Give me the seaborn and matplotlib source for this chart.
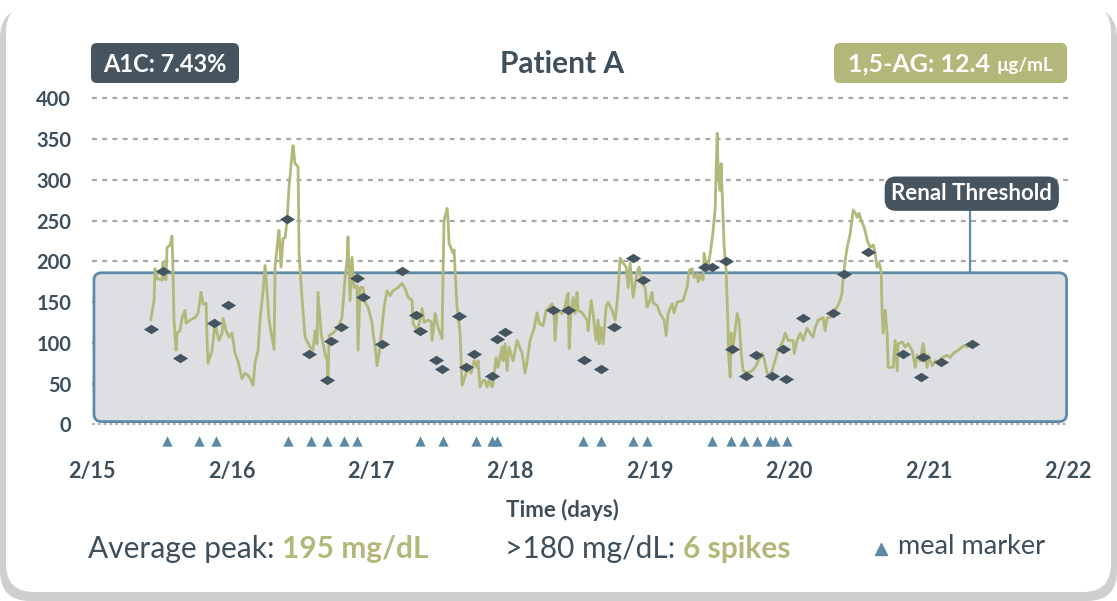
import matplotlib

matplotlib.use('agg')
import matplotlib.pyplot as plt
import pandas as pd
import seaborn as sns
from matplotlib.patches import FancyBboxPatch
from matplotlib.path import Path

# ---- data (days since 2/15 00:00, glucose in mg/dL) ----
DAY_LABELS = ['2/15', '2/16', '2/17', '2/18', '2/19', '2/20', '2/21', '2/22']
Y_TICKS = [0, 50, 100, 150, 200, 250, 300, 350, 400]

TRACE_DAY = [
    0.421, 0.445, 0.452, 0.466, 0.502, 0.509, 0.517, 0.531, 0.538, 0.560, 0.574, 0.581, 0.588, 0.603,
    0.610, 0.631, 0.646, 0.667, 0.674, 0.703, 0.739, 0.760, 0.782, 0.796, 0.818, 0.825, 0.832, 0.861,
    0.875, 0.882, 0.897, 0.911, 0.933, 0.940, 0.961, 0.983, 1.004, 1.026, 1.047, 1.076, 1.098, 1.119,
    1.141, 1.155, 1.169, 1.191, 1.205, 1.227, 1.241, 1.255, 1.270, 1.284, 1.306, 1.313, 1.334, 1.341,
    1.356, 1.370, 1.385, 1.399, 1.413, 1.435, 1.442, 1.456, 1.478, 1.485, 1.506, 1.528, 1.564, 1.585,
    1.600, 1.614, 1.621, 1.643, 1.671, 1.686, 1.693, 1.700, 1.729, 1.765, 1.793, 1.815, 1.829, 1.836,
    1.851, 1.865, 1.879, 1.901, 1.908, 1.923, 1.944, 1.958, 1.980, 2.009, 2.016, 2.037, 2.044, 2.059,
    2.080, 2.095, 2.116, 2.138, 2.159, 2.195, 2.224, 2.245, 2.267, 2.296, 2.303, 2.331, 2.353, 2.367,
    2.382, 2.410, 2.432, 2.439, 2.461, 2.482, 2.511, 2.518, 2.525, 2.547, 2.554, 2.561, 2.590, 2.597,
    2.604, 2.618, 2.640, 2.654, 2.661, 2.683, 2.704, 2.719, 2.740, 2.762, 2.769, 2.783, 2.805, 2.819,
    2.834, 2.848, 2.869, 2.877, 2.898, 2.912, 2.941, 2.948, 2.963, 2.977, 2.991, 3.020, 3.049, 3.085,
    3.106, 3.121, 3.142, 3.171, 3.192, 3.207, 3.235, 3.257, 3.271, 3.300, 3.314, 3.321, 3.336, 3.372,
    3.386, 3.407, 3.415, 3.422, 3.436, 3.451, 3.465, 3.479, 3.486, 3.515, 3.551, 3.558, 3.580, 3.594,
    3.615, 3.630, 3.637, 3.651, 3.666, 3.687, 3.702, 3.730, 3.752, 3.766, 3.773, 3.788, 3.809, 3.831,
    3.845, 3.859, 3.881, 3.910, 3.924, 3.945, 3.967, 3.981, 3.996, 4.017, 4.024, 4.053, 4.074, 4.103,
    4.118, 4.132, 4.161, 4.175, 4.197, 4.240, 4.268, 4.283, 4.304, 4.319, 4.340, 4.347, 4.369, 4.383,
    4.390, 4.412, 4.426, 4.440, 4.455, 4.469, 4.484, 4.491, 4.505, 4.512, 4.527, 4.534, 4.548, 4.562,
    4.565, 4.577, 4.584, 4.598, 4.627, 4.641, 4.656, 4.670, 4.699, 4.735, 4.756, 4.778, 4.806, 4.821,
    4.842, 4.864, 4.885, 4.914, 4.935, 4.957, 4.971, 4.993, 5.029, 5.036, 5.057, 5.079, 5.100, 5.129,
    5.151, 5.172, 5.187, 5.208, 5.244, 5.258, 5.273, 5.294, 5.316, 5.344, 5.366, 5.380, 5.387, 5.402,
    5.416, 5.438, 5.459, 5.473, 5.488, 5.502, 5.517, 5.538, 5.560, 5.581, 5.603, 5.617, 5.631, 5.646,
    5.660, 5.667, 5.674, 5.689, 5.703, 5.710, 5.746, 5.760, 5.775, 5.782, 5.811, 5.832, 5.854, 5.882,
    5.904, 5.918, 5.940, 5.961, 5.990, 5.997, 6.026, 6.047, 6.069, 6.098, 6.133, 6.155, 6.176, 6.212,
    6.255, 6.277, 6.320,
]
TRACE_MG = [
    128, 152, 191, 179, 177, 199, 180, 177, 217, 220, 231, 189, 128, 91,
    112, 115, 131, 140, 124, 128, 131, 136, 162, 148, 149, 107, 75, 91,
    112, 128, 112, 103, 112, 130, 115, 107, 112, 87, 78, 56, 63, 60,
    54, 48, 75, 91, 128, 164, 195, 164, 128, 113, 92, 193, 228, 238,
    193, 228, 229, 250, 291, 332, 342, 320, 316, 210, 156, 107, 95, 91,
    115, 99, 162, 112, 87, 78, 54, 109, 112, 119, 131, 180, 201, 230,
    152, 205, 168, 170, 91, 168, 168, 150, 144, 124, 112, 87, 72, 87,
    119, 144, 164, 158, 164, 168, 173, 167, 156, 152, 124, 115, 128, 142,
    125, 128, 126, 103, 136, 119, 105, 189, 250, 265, 250, 222, 210, 214,
    189, 144, 112, 48, 51, 63, 70, 63, 78, 70, 78, 46, 54, 54,
    46, 54, 46, 50, 82, 70, 95, 78, 99, 66, 95, 78, 103, 87,
    63, 78, 103, 118, 137, 124, 121, 140, 142, 148, 136, 103, 140, 136,
    140, 156, 161, 93, 140, 156, 136, 162, 140, 137, 128, 115, 152, 136,
    103, 128, 99, 119, 99, 144, 150, 140, 128, 150, 164, 204, 198, 193,
    168, 198, 156, 187, 193, 173, 168, 144, 150, 162, 149, 146, 136, 128,
    109, 136, 148, 137, 150, 152, 168, 189, 191, 180, 185, 175, 183, 177,
    210, 190, 201, 217, 238, 263, 357, 308, 287, 320, 250, 217, 189, 119,
    87, 58, 112, 95, 136, 128, 87, 66, 63, 66, 70, 78, 87, 80,
    63, 58, 70, 87, 95, 103, 112, 103, 103, 87, 103, 112, 103, 118,
    112, 107, 119, 128, 131, 115, 131, 131, 137, 144, 152, 162, 180, 201,
    217, 234, 263, 260, 254, 259, 250, 242, 226, 217, 220, 210, 193, 198,
    187, 136, 112, 140, 112, 70, 70, 103, 66, 99, 101, 95, 99, 91,
    70, 85, 78, 99, 70, 85, 72, 78, 75, 82, 85, 82, 87, 91,
    97, 95, 101,
]

READING_DAY = [
    0.423, 0.509, 0.631, 0.875, 0.976, 1.399, 1.557, 1.686, 1.714, 1.786, 1.901, 1.944, 2.080, 2.224,
    2.324, 2.353, 2.468, 2.511, 2.633, 2.683, 2.740, 2.869, 2.905, 2.963, 3.307, 3.415, 3.529, 3.651,
    3.745, 3.881, 3.953, 4.398, 4.448, 4.548, 4.591, 4.692, 4.763, 4.878, 4.957, 4.978, 5.100, 5.316,
    5.395, 5.567, 5.818, 5.947, 5.961, 6.090, 6.313,
]
READING_MG = [
    117, 188, 81, 125, 146, 252, 87, 54, 102, 120, 180, 156, 99, 188,
    134, 114, 79, 68, 133, 71, 87, 59, 105, 113, 140, 140, 79, 68,
    119, 204, 177, 193, 193, 200, 93, 60, 85, 60, 93, 56, 130, 137,
    184, 211, 87, 58, 83, 76, 99,
]

MEAL_DAY = [
    0.538, 0.768, 0.890, 1.406, 1.571, 1.686, 1.808, 1.901, 2.353, 2.518, 2.755, 2.869, 2.905,
    3.522, 3.651, 3.881, 3.981, 4.448, 4.584, 4.677, 4.770, 4.864, 4.900, 4.986,
]

RENAL_THRESHOLD = 186
A1C = '7.43%'
AG_VALUE = '12.4'
AVG_PEAK = 195
SPIKES = 6

# ---- style ----
DARK = '#45545f'
TEXT = '#3d4f5c'
OLIVE = '#b3b87a'
STEEL = '#5d8aa6'
BOX = '#dddfe2'
GRID = '#a8a8a8'

sns.set_theme(style='white')
plt.rcParams['font.family'] = ['Lato', 'DejaVu Sans']

W, H = 1117, 601
fig = plt.figure(figsize=(W / 100, H / 100), dpi=100)
fig.patch.set_facecolor('white')
inch = fig.dpi_scale_trans


def px_box(x0, y0, x1, y1, r, fc, z=-1):
    p = FancyBboxPatch((x0 / 100, (H - y1) / 100), (x1 - x0) / 100, (y1 - y0) / 100,
                       boxstyle=f'round,pad=0,rounding_size={r / 100}',
                       transform=inch, fc=fc, ec='none', zorder=z)
    fig.patches.append(p)


def px_text(x, y, s, **kw):
    return fig.text(x / 100, (H - y) / 100, s, transform=inch, **kw)


# card with shadow
px_box(0, 8, 1117, 601, 30, '#cfcfcf', z=-3)
px_box(6, 4, 1111, 592, 28, 'white', z=-2)

ax = fig.add_axes([92 / W, 1 - 453 / H, 976 / W, (453 - 94.2) / H])
ax.set_xlim(0, 7)
ax.set_ylim(-35, 405)
ax.patch.set_alpha(0)
for s in ax.spines.values():
    s.set_visible(False)

for y in Y_TICKS:
    if y == 0:
        ax.axhline(y, color=GRID, lw=1.3, ls=(0, (1.6, 1.6)), zorder=0.5)
    else:
        ax.axhline(y, color=GRID, lw=1.6, ls=(0, (2.2, 2.4)), zorder=0.5)

# renal threshold band
band = FancyBboxPatch((0.014, 3.5), 6.976, RENAL_THRESHOLD - 3.5,
                      boxstyle='round,pad=0,rounding_size=0.055', mutation_aspect=171,
                      fc=BOX, ec=STEEL, lw=2, zorder=1)
ax.add_patch(band)
ax.plot([6.30, 6.30], [RENAL_THRESHOLD, 266], color=STEEL, lw=1.6, zorder=1.5)
ax.text(6.31, 283, 'Renal Threshold', ha='center', va='center', color='white',
        fontsize=16, fontweight='bold', zorder=3,
        bbox=dict(boxstyle='round,pad=0.3,rounding_size=0.5', fc=DARK, ec='none'))

trace = pd.DataFrame({'day': TRACE_DAY, 'mg': TRACE_MG})
sns.lineplot(data=trace, x='day', y='mg', sort=False, estimator=None, color=OLIVE,
             lw=2.0, ax=ax, zorder=2)

diamond = Path([(-1, 0), (0, 0.62), (1, 0), (0, -0.62), (-1, 0)],
               [Path.MOVETO, Path.LINETO, Path.LINETO, Path.LINETO, Path.CLOSEPOLY])
readings = pd.DataFrame({'day': READING_DAY, 'mg': READING_MG})
sns.scatterplot(data=readings, x='day', y='mg', marker=diamond, s=120, color=DARK,
                linewidth=0, ax=ax, zorder=3)

meals = pd.DataFrame({'day': MEAL_DAY, 'y': [-20] * len(MEAL_DAY)})
sns.scatterplot(data=meals, x='day', y='y', marker='^', s=55, color=STEEL, linewidth=0,
                ax=ax, zorder=3, clip_on=False)

ax.set_yticks(Y_TICKS)
ax.set_xticks(range(len(DAY_LABELS)))
ax.set_xticklabels(DAY_LABELS)
ax.tick_params(axis='y', length=0, pad=15, labelsize=14.5, labelcolor=TEXT)
ax.tick_params(axis='x', length=0, pad=6, labelsize=15.5, labelcolor=TEXT)
for lab in ax.get_xticklabels() + ax.get_yticklabels():
    lab.set_fontweight('bold')
ax.set_xlabel('')
ax.set_ylabel('')

# header
px_box(91, 43, 239, 83, 6, DARK, z=1)
px_text(165, 64, f'A1C: {A1C}', ha='center', va='center', color='white', fontsize=17,
        fontweight='bold')
px_text(562, 64, 'Patient A', ha='center', va='center', color=TEXT, fontsize=21.5,
        fontweight='bold')
px_box(834, 43, 1067, 83, 6, OLIVE, z=1)

fig.canvas.draw()
r = fig.canvas.get_renderer()

t1 = px_text(0, 64, f'1,5-AG: {AG_VALUE} ', ha='left', va='center', color='white',
             fontsize=18, fontweight='bold')
t2 = px_text(0, 66, 'µg/mL', ha='left', va='center', color='white', fontsize=13.5,
             fontweight='bold')
w1 = t1.get_window_extent(r).width
w2 = t2.get_window_extent(r).width
x0 = (834 + 1067) / 2 - (w1 + w2) / 2
t1.set_position((x0 / 100, (H - 64) / 100))
t2.set_position(((x0 + w1) / 100, (H - 66) / 100))

px_text(562, 510, 'Time (days)', ha='center', va='center', color=TEXT, fontsize=16,
        fontweight='bold')


def run(x, y, parts, size):
    for s, color, weight in parts:
        t = px_text(x, y, s, ha='left', va='center', color=color, fontsize=size,
                    fontweight=weight)
        x += t.get_window_extent(r).width


run(88, 549, [('Average peak: ', TEXT, 'normal'), (f'{AVG_PEAK} mg/dL', OLIVE, 'bold')], 21.5)
run(505, 549, [('>180 mg/dL: ', TEXT, 'normal'), (f'{SPIKES} spikes', OLIVE, 'bold')], 21.5)
fig.add_artist(plt.Line2D([881 / W], [1 - 549 / H], marker='^', color=STEEL, ms=8, lw=0))
px_text(898, 546, 'meal marker', ha='left', va='center', color=TEXT, fontsize=19.5)

fig.savefig('out.png', dpi=100)
